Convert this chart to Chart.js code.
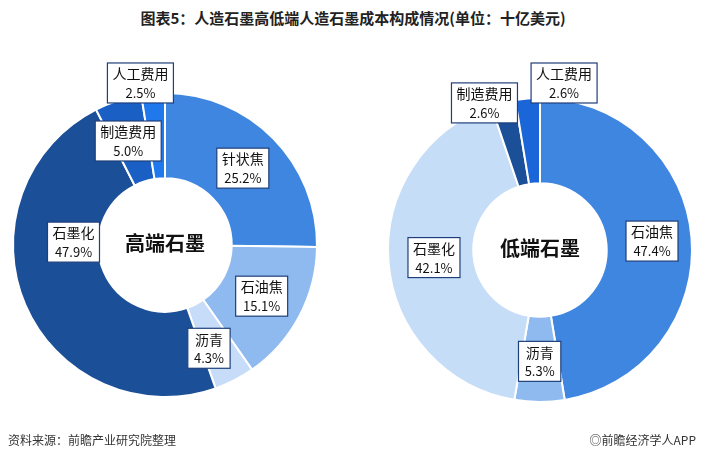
<!DOCTYPE html>
<html>
<head>
<meta charset="utf-8">
<script src="https://cdn.jsdelivr.net/npm/chart.js@4"></script>
<style>
body { margin:0; width:706px; height:462px; background:#fff; position:relative; overflow:hidden; font-family:"Noto Sans CJK SC", sans-serif; }
#title { position:absolute; top:7px; left:0; width:706px; text-align:center; font-size:15px; font-weight:bold; color:#222; }
#src { position:absolute; left:8px; top:431px; font-size:12px; color:#333; }
#brand { position:absolute; right:10px; top:431px; font-size:12px; color:#333; }
canvas { position:absolute; }
</style>
</head>
<body>
<div id="title">图表5：人造石墨高低端人造石墨成本构成情况(单位：十亿美元)</div>
<canvas id="c1" width="330" height="400" style="left:0;top:45px"></canvas>
<canvas id="c2" width="330" height="400" style="left:375px;top:50px"></canvas>
<div id="src">资料来源：前瞻产业研究院整理</div>
<div id="brand">◎前瞻经济学人APP</div>
<script>
// high-end graphite
var highLabels = ['针状焦', '石油焦', '沥青', '石墨化', '制造费用', '人工费用'];
var highValues = [25.2, 15.1, 4.3, 47.9, 5.0, 2.5];
var highColors = ['#3f86e0', '#8fbaf0', '#c6dcf8', '#1b4f98', '#1a5fc4', '#1f78ec'];
var highOffsets = [[0,0],[0,0],[-6,6],[9,-46],[-3,0],[-16,-53]];

// low-end graphite
var lowLabels = ['石油焦', '沥青', '石墨化', '制造费用', '人工费用'];
var lowValues = [47.4, 5.3, 42.1, 2.6, 2.6];
var lowColors = ['#3f86e0', '#8fbaf0', '#c6ddf8', '#1b4f98', '#1a66d8'];
var lowOffsets = [[3,0],[0,2],[3,-1],[-29,-41],[33,-58]];

var boxLabels = {
  id: 'boxLabels',
  afterDraw: function(chart) {
    var ctx = chart.ctx;
    var opts = chart.options.plugins.boxLabels;
    var meta = chart.getDatasetMeta(0);
    ctx.save();
    meta.data.forEach(function(arc, i) {
      var p = arc.getCenterPoint();
      var x = p.x + opts.offsets[i][0], y = p.y + opts.offsets[i][1];
      var name = chart.data.labels[i];
      var pct = chart.data.datasets[0].data[i].toFixed(1) + '%';
      ctx.font = '14px "Noto Sans CJK SC"';
      var w = Math.max(ctx.measureText(name).width, ctx.measureText(pct).width) + 10;
      var h = 40;
      ctx.fillStyle = '#fff';
      ctx.fillRect(x - w / 2, y - h / 2, w, h);
      ctx.strokeStyle = '#1f3f7a';
      ctx.lineWidth = 1.2;
      ctx.strokeRect(x - w / 2, y - h / 2, w, h);
      ctx.fillStyle = '#111';
      ctx.textAlign = 'center';
      ctx.textBaseline = 'middle';
      ctx.fillText(name, x, y - 9);
      ctx.font = '13px "Noto Sans CJK SC"';
      ctx.fillText(pct, x, y + 10);
    });
    var c = meta.data[0];
    ctx.font = 'bold 20px "Noto Sans CJK SC"';
    ctx.fillStyle = '#111';
    ctx.textAlign = 'center';
    ctx.textBaseline = 'middle';
    ctx.fillText(opts.center, c.x, c.y - 2);
    ctx.restore();
  }
};

function makeChart(id, labels, values, colors, offsets, center) {
  return new Chart(document.getElementById(id), {
    type: 'doughnut',
    data: { labels: labels, datasets: [{ data: values, backgroundColor: colors, borderColor: '#fff', borderWidth: 2 }] },
    options: {
      responsive: false,
      animation: false,
      radius: 152,
      cutout: 72,
      layout: { padding: 0 },
      plugins: {
        legend: { display: false },
        tooltip: { enabled: false },
        boxLabels: { offsets: offsets, center: center }
      }
    },
    plugins: [boxLabels]
  });
}

makeChart('c1', highLabels, highValues, highColors, highOffsets, '高端石墨');
makeChart('c2', lowLabels, lowValues, lowColors, lowOffsets, '低端石墨');
</script>
</body>
</html>
